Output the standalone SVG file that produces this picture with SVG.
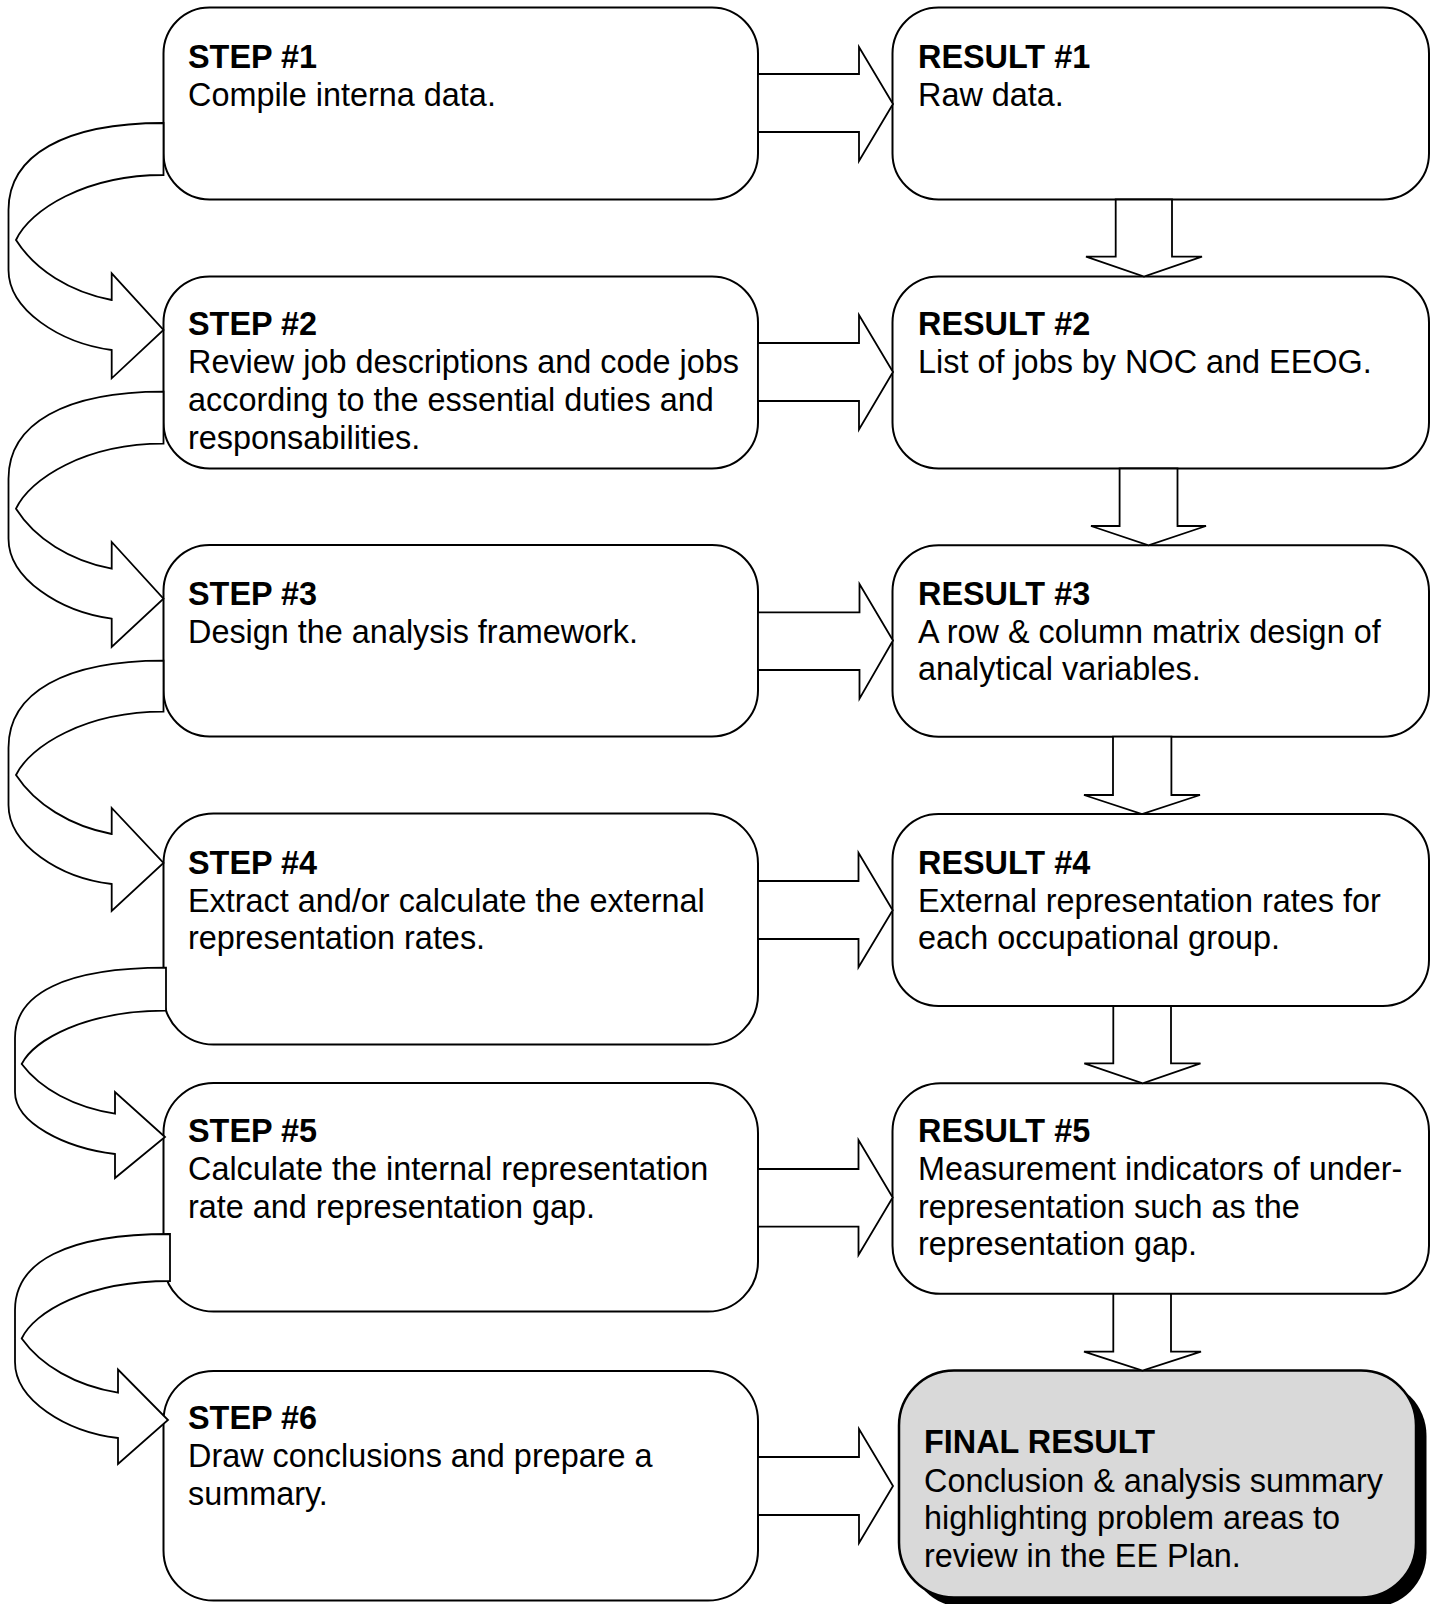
<svg xmlns="http://www.w3.org/2000/svg" width="1437" height="1604" viewBox="0 0 1437 1604">
<style>
.box{fill:#fff;stroke:#000;stroke-width:2}
.fin{fill:#d9d9d9;stroke:#000;stroke-width:2.5}
.arr{fill:#fff;stroke:#000;stroke-width:1.8;stroke-linejoin:miter}
text{font-family:"Liberation Sans",Arial,sans-serif;font-size:32.4px;fill:#000}
.h{font-weight:bold}
</style>
<rect width="1437" height="1604" fill="#fff"/>
<g id="step1"><rect class="box" x="163.5" y="7.5" width="594.5" height="192" rx="46"/>
<text x="188" y="67.5"><tspan class="h">STEP #1</tspan><tspan x="188" y="105.5">Compile interna data.</tspan></text></g>
<g id="step2"><rect class="box" x="163.5" y="276.5" width="594.5" height="192" rx="46"/>
<text x="188" y="335.3"><tspan class="h">STEP #2</tspan><tspan x="188" y="373.3">Review job descriptions and code jobs</tspan><tspan x="188" y="411">according to the essential duties and</tspan><tspan x="188" y="448.7">responsabilities.</tspan></text></g>
<g id="step3"><rect class="box" x="163.5" y="545" width="594.5" height="191.5" rx="46"/>
<text x="188" y="605"><tspan class="h">STEP #3</tspan><tspan x="188" y="642.7">Design the analysis framework.</tspan></text></g>
<g id="step4"><rect class="box" x="163.5" y="813.5" width="594.5" height="231" rx="50"/>
<text x="188" y="874.3"><tspan class="h">STEP #4</tspan><tspan x="188" y="911.7">Extract and/or calculate the external</tspan><tspan x="188" y="949.3">representation rates.</tspan></text></g>
<g id="step5"><rect class="box" x="163.5" y="1083" width="594.5" height="228.5" rx="50"/>
<text x="188" y="1141.7"><tspan class="h">STEP #5</tspan><tspan x="188" y="1180">Calculate the internal representation</tspan><tspan x="188" y="1217.7">rate and representation gap.</tspan></text></g>
<g id="step6"><rect class="box" x="163.5" y="1371" width="594.5" height="229.5" rx="50"/>
<text x="188" y="1429"><tspan class="h">STEP #6</tspan><tspan x="188" y="1467">Draw conclusions and prepare a</tspan><tspan x="188" y="1505">summary.</tspan></text></g>
<g id="result1"><rect class="box" x="892.5" y="7.5" width="536.5" height="192" rx="46"/>
<text x="918" y="67.5"><tspan class="h">RESULT #1</tspan><tspan x="918" y="105.5">Raw data.</tspan></text></g>
<g id="result2"><rect class="box" x="892.5" y="276.5" width="536.5" height="192" rx="46"/>
<text x="918" y="335.3"><tspan class="h">RESULT #2</tspan><tspan x="918" y="373.3">List of jobs by NOC and EEOG.</tspan></text></g>
<g id="result3"><rect class="box" x="892.5" y="545.3" width="536.5" height="191.4" rx="46"/>
<text x="918" y="605"><tspan class="h">RESULT #3</tspan><tspan x="918" y="642.7">A row &amp; column matrix design of</tspan><tspan x="918" y="680.3">analytical variables.</tspan></text></g>
<g id="result4"><rect class="box" x="892.5" y="814" width="536.5" height="192" rx="46"/>
<text x="918" y="874.3"><tspan class="h">RESULT #4</tspan><tspan x="918" y="911.7">External representation rates for</tspan><tspan x="918" y="949.3">each occupational group.</tspan></text></g>
<g id="result5"><rect class="box" x="892.5" y="1083.3" width="536.5" height="210.5" rx="48"/>
<text x="918" y="1141.7"><tspan class="h">RESULT #5</tspan><tspan x="918" y="1180">Measurement indicators of under-</tspan><tspan x="918" y="1217.7">representation such as the</tspan><tspan x="918" y="1255.3">representation gap.</tspan></text></g>
<g id="final"><rect x="909.5" y="1380.5" width="517" height="227" rx="55" fill="#000"/>
<rect class="fin" x="899" y="1370.5" width="517" height="227" rx="55"/>
<text x="924" y="1453.3"><tspan class="h">FINAL RESULT</tspan><tspan x="924" y="1491.5">Conclusion &amp; analysis summary</tspan><tspan x="924" y="1529">highlighting problem areas to</tspan><tspan x="924" y="1566.7">review in the EE Plan.</tspan></text></g>
<g id="connectors">
<path class="arr" d="M758,74 H859 V47 L893,104 L859,161 V132 H758 Z"/>
<path class="arr" d="M758,343 H859 V315 L893,372 L859,429.5 V401 H758 Z"/>
<path class="arr" d="M758,612.3 H859.5 V584 L893,640.5 L859.5,698.7 V670 H758 Z"/>
<path class="arr" d="M758,881 H858.5 V852.7 L892.7,910.3 L858.5,967.3 V939 H758 Z"/>
<path class="arr" d="M758,1169 H858.5 V1140 L892.7,1197.5 L858.5,1255 V1226.7 H758 Z"/>
<path class="arr" d="M758,1457 H859 V1429 L893,1486 L859,1543 V1515 H758 Z"/>
<path class="arr" d="M1115.7,199.5 V256.7 H1086 L1144,276.5 L1202,256.7 H1172 V199.5 Z"/>
<path class="arr" d="M1119.6,468.5 V526 H1091 L1148.5,545.3 L1206,526 H1177.5 V468.5 Z"/>
<path class="arr" d="M1113,736.7 V795 H1084 L1142,814 L1200,795 H1171.4 V736.7 Z"/>
<path class="arr" d="M1113.3,1006 V1063.3 H1084.3 L1142.7,1083.3 L1200.5,1063.3 H1171 V1006 Z"/>
<path class="arr" d="M1113.3,1293.8 V1351.7 H1084 L1142.5,1370.5 L1201,1351.7 H1171 V1293.8 Z"/>
<path class="arr" d="M163.5,123 C65,123 8.5,155 8.5,210 L8.5,270 C8.5,310 60,343 111.7,350 L111.7,378.3 L163.5,330 L111.7,273.3 L111.7,300 C70,292 35,270 16,240 C30,210 85,175 163.5,175 Z"/>
<path class="arr" transform="translate(0,268.7)" d="M163.5,123 C65,123 8.5,155 8.5,210 L8.5,270 C8.5,310 60,343 111.7,350 L111.7,378.3 L163.5,330 L111.7,273.3 L111.7,300 C70,292 35,270 16,240 C30,210 85,175 163.5,175 Z"/>
<path class="arr" d="M163.5,660.7 C65,660.7 8.5,692.7 8.5,747.7 L8.5,805 C8.5,845 60,878 111.7,884 L111.7,911 L163.5,863 L111.7,808 L111.7,834 C70,826 35,804 16,775 C30,746 85,711.7 163.5,711.7 Z"/>
<path class="arr" d="M166,967.7 C65,967.7 15,993.6 15,1038 L15,1092 C15,1123 65,1148 115,1154 L115,1178 L165,1137 L115,1092 L115,1113.6 C74,1107.2 40.4,1088.8 21.7,1064 C34,1040 85,1010.7 166,1010.7 Z"/>
<path class="arr" d="M170,1234 C66,1234 15,1262 15,1310 L15,1362 C15,1400 66,1432 118,1438 L118,1464 L168,1420 L118,1369.5 L118,1392.7 C75.6,1385.7 41,1365.6 21.7,1338.5 C34,1312 87,1281 170,1281 Z"/>
</g>
</svg>
